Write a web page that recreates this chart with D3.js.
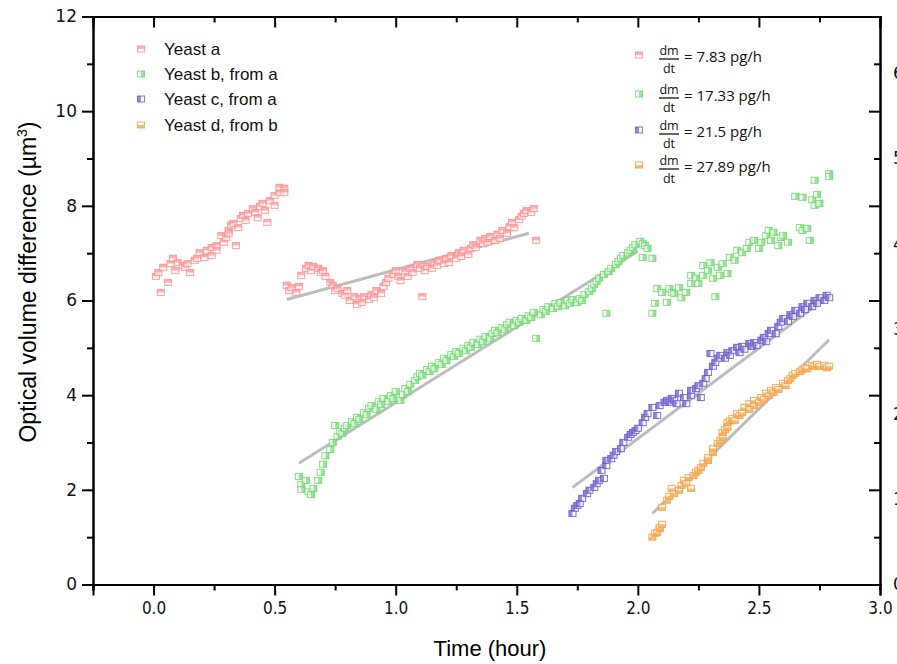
<!DOCTYPE html>
<html><head><meta charset="utf-8">
<script src="https://cdn.jsdelivr.net/npm/d3@7/dist/d3.min.js"></script>
<style>body{margin:0;background:#fff}svg{display:block}</style>
</head><body><svg id="c" width="897" height="664"></svg>
<script>
// ---- data (time in hours, optical volume difference in µm³) ----
const seriesNames = ["Yeast a", "Yeast b, from a", "Yeast c, from a", "Yeast d, from b"];
const rateLabels = ["= 7.83 pg/h", "= 17.33 pg/h", "= 21.5 pg/h", "= 27.89 pg/h"];
const xTicks = [0.0, 0.5, 1.0, 1.5, 2.0, 2.5, 3.0];
const yTicks = [0, 2, 4, 6, 8, 10, 12];
const rightTicks = [0, 1, 2, 3, 4, 5, 6];

const yeastA = [[0.01,6.51],[0.02,6.59],[0.03,6.17],[0.04,6.70],[0.06,6.38],[0.07,6.78],[0.08,6.89],[0.09,6.63],[0.10,6.80],[0.12,6.74],[0.13,6.70],[0.14,6.78],[0.15,6.59],[0.17,6.85],[0.18,6.89],[0.19,7.01],[0.21,6.91],[0.22,7.06],[0.24,6.95],[0.24,7.12],[0.26,7.16],[0.26,7.06],[0.28,7.37],[0.29,7.23],[0.30,7.33],[0.31,7.48],[0.31,7.42],[0.32,7.59],[0.33,7.63],[0.34,7.16],[0.35,7.54],[0.36,7.73],[0.37,7.80],[0.38,7.69],[0.39,7.84],[0.41,7.94],[0.42,7.86],[0.43,7.75],[0.44,7.99],[0.45,8.05],[0.46,7.90],[0.47,7.65],[0.48,8.11],[0.50,8.01],[0.50,8.22],[0.52,8.28],[0.52,8.39],[0.54,8.37],[0.54,8.28],
[0.55,6.32],[0.56,6.21],[0.57,6.27],[0.59,6.17],[0.60,6.30],[0.61,6.53],[0.63,6.68],[0.64,6.74],[0.65,6.63],[0.66,6.72],[0.68,6.68],[0.69,6.59],[0.70,6.63],[0.71,6.51],[0.73,6.38],[0.74,6.32],[0.75,6.21],[0.76,6.25],[0.78,6.15],[0.79,6.11],[0.80,6.21],[0.81,6.00],[0.83,6.08],[0.84,5.92],[0.85,6.04],[0.86,5.96],[0.87,6.08],[0.89,6.02],[0.90,6.13],[0.91,6.06],[0.92,6.21],[0.94,6.15],[0.95,6.30],[0.96,6.38],[0.97,6.47],[0.99,6.55],[1.00,6.63],[1.01,6.51],[1.02,6.42],[1.04,6.61],[1.05,6.51],[1.06,6.68],[1.07,6.59],[1.09,6.76],[1.10,6.68],[1.11,6.08],[1.12,6.63],[1.13,6.72],[1.15,6.68],[1.16,6.80],[1.17,6.74],[1.18,6.85],[1.20,6.78],[1.21,6.89],[1.22,6.80],[1.23,6.95],[1.25,6.89],[1.26,7.01],[1.27,6.93],[1.28,7.06],[1.30,6.97],[1.31,7.10],[1.32,7.18],[1.33,7.12],[1.35,7.27],[1.36,7.20],[1.37,7.31],[1.38,7.23],[1.39,7.35],[1.41,7.27],[1.42,7.40],[1.43,7.31],[1.44,7.48],[1.46,7.42],[1.47,7.56],[1.48,7.65],[1.49,7.54],[1.51,7.71],[1.52,7.78],[1.53,7.84],[1.54,7.90],[1.56,7.86],[1.57,7.94],[1.58,7.27]];

const yeastB = [[0.60,2.28],[0.61,2.11],[0.61,2.01],[0.63,2.20],[0.64,1.96],[0.65,1.90],[0.66,2.03],[0.68,2.20],[0.69,2.37],[0.70,2.54],[0.71,2.72],[0.73,2.85],[0.74,3.00],[0.75,3.36],[0.76,3.13],[0.77,3.23],[0.78,3.19],[0.79,3.30],[0.80,3.36],[0.82,3.44],[0.83,3.40],[0.84,3.53],[0.85,3.49],[0.87,3.63],[0.88,3.59],[0.89,3.72],[0.90,3.78],[0.92,3.70],[0.93,3.87],[0.94,3.80],[0.95,3.93],[0.97,3.87],[0.98,3.99],[0.99,3.93],[1.00,4.08],[1.02,3.89],[1.03,4.01],[1.04,4.14],[1.05,4.08],[1.06,4.23],[1.08,4.31],[1.09,4.39],[1.10,4.46],[1.11,4.42],[1.13,4.54],[1.14,4.50],[1.15,4.61],[1.16,4.56],[1.18,4.69],[1.19,4.65],[1.20,4.78],[1.21,4.73],[1.23,4.86],[1.24,4.82],[1.25,4.92],[1.26,4.88],[1.28,4.99],[1.29,4.94],[1.30,5.05],[1.31,5.01],[1.32,5.11],[1.34,5.07],[1.35,5.18],[1.36,5.13],[1.37,5.24],[1.39,5.20],[1.40,5.30],[1.41,5.37],[1.42,5.32],[1.44,5.43],[1.45,5.39],[1.46,5.49],[1.47,5.54],[1.49,5.47],[1.50,5.58],[1.51,5.54],[1.52,5.62],[1.54,5.58],[1.55,5.68],[1.56,5.64],[1.57,5.75],[1.58,5.20],[1.60,5.70],[1.61,5.81],[1.62,5.77],[1.63,5.87],[1.65,5.83],[1.66,5.94],[1.67,5.87],[1.68,5.96],[1.70,5.89],[1.71,6.00],[1.72,5.94],[1.73,6.02],[1.75,5.96],[1.76,6.04],[1.77,6.00],[1.78,6.13],[1.80,6.19],[1.81,6.25],[1.82,6.34],[1.83,6.40],[1.84,6.47],[1.86,6.55],[1.87,5.73],[1.88,6.61],[1.89,6.68],[1.91,6.76],[1.92,6.82],[1.93,6.89],[1.94,6.95],[1.96,7.01],[1.97,7.06],[1.98,7.12],[1.99,7.18],[2.01,7.25],[2.02,7.20],[2.03,7.16],[2.04,7.10],[2.02,6.91],[2.06,6.89],
[2.06,5.73],[2.07,5.94],[2.08,6.25],[2.10,6.17],[2.12,5.96],[2.13,6.25],[2.14,6.17],[2.15,6.15],[2.17,6.27],[2.18,6.06],[2.20,6.17],[2.22,6.36],[2.22,6.53],[2.24,6.47],[2.25,6.36],[2.27,6.53],[2.27,6.74],[2.29,6.63],[2.30,6.80],[2.31,6.47],[2.32,6.08],[2.33,6.70],[2.34,6.53],[2.35,6.78],[2.37,6.57],[2.38,6.91],[2.40,6.85],[2.41,7.06],[2.43,7.01],[2.45,7.10],[2.46,7.23],[2.48,7.27],[2.50,7.10],[2.51,7.23],[2.53,7.37],[2.54,7.48],[2.55,7.27],[2.56,7.44],[2.58,7.16],[2.59,7.33],[2.60,7.37],[2.62,7.23],[2.65,8.20],[2.67,7.54],[2.68,8.18],[2.68,7.48],[2.70,7.52],[2.71,7.27],[2.72,8.13],[2.73,8.01],[2.74,8.24],[2.73,8.54],[2.75,8.05],[2.79,8.68],[2.79,8.62]];

const yeastC = [[1.73,1.50],[1.74,1.61],[1.75,1.67],[1.76,1.71],[1.77,1.82],[1.79,1.92],[1.80,1.99],[1.82,2.05],[1.83,2.13],[1.84,2.20],[1.86,2.24],[1.85,2.41],[1.87,2.51],[1.87,2.62],[1.89,2.66],[1.90,2.73],[1.91,2.81],[1.93,2.87],[1.94,3.00],[1.96,3.11],[1.97,3.17],[1.98,3.21],[1.99,3.25],[2.00,3.30],[2.02,3.42],[2.03,3.53],[2.04,3.61],[2.06,3.74],[2.08,3.57],[2.09,3.78],[2.11,3.85],[2.12,3.89],[2.13,3.85],[2.14,3.93],[2.15,3.89],[2.16,3.82],[2.17,4.04],[2.19,3.95],[2.20,3.82],[2.22,3.99],[2.22,4.10],[2.24,4.14],[2.25,4.20],[2.26,3.95],[2.27,4.25],[2.28,4.35],[2.29,4.48],[2.30,4.88],[2.31,4.61],[2.32,4.69],[2.33,4.78],[2.34,4.84],[2.36,4.78],[2.37,4.90],[2.38,4.84],[2.39,4.94],[2.41,5.01],[2.42,4.90],[2.43,5.03],[2.44,4.97],[2.46,5.09],[2.47,5.03],[2.48,5.11],[2.49,5.05],[2.51,5.16],[2.52,5.22],[2.53,5.13],[2.54,5.30],[2.55,5.37],[2.57,5.30],[2.58,5.45],[2.59,5.54],[2.60,5.62],[2.62,5.56],[2.63,5.70],[2.64,5.66],[2.65,5.79],[2.67,5.73],[2.68,5.87],[2.69,5.81],[2.70,5.94],[2.72,5.87],[2.73,6.00],[2.74,5.94],[2.75,6.06],[2.77,6.00],[2.78,6.11],[2.79,6.06]];

const yeastD = [[2.06,1.00],[2.07,1.08],[2.08,1.10],[2.09,1.18],[2.09,1.20],[2.10,1.27],[2.10,1.63],[2.12,1.78],[2.13,1.86],[2.14,2.03],[2.15,1.92],[2.17,1.99],[2.18,2.09],[2.19,2.20],[2.20,2.13],[2.21,2.26],[2.22,2.03],[2.23,2.30],[2.24,2.37],[2.25,2.41],[2.26,2.47],[2.27,2.56],[2.29,2.62],[2.29,2.68],[2.31,2.79],[2.31,2.87],[2.33,2.98],[2.34,3.04],[2.35,3.11],[2.35,3.21],[2.36,3.27],[2.37,3.32],[2.37,3.42],[2.38,3.46],[2.39,3.51],[2.40,3.46],[2.41,3.61],[2.42,3.57],[2.43,3.63],[2.44,3.74],[2.46,3.70],[2.46,3.82],[2.48,3.78],[2.48,3.89],[2.50,3.85],[2.51,3.95],[2.52,3.91],[2.53,4.04],[2.54,3.99],[2.55,4.10],[2.56,4.06],[2.57,4.16],[2.58,4.12],[2.60,4.25],[2.61,4.20],[2.62,4.31],[2.63,4.35],[2.64,4.42],[2.65,4.46],[2.67,4.50],[2.68,4.54],[2.69,4.58],[2.70,4.56],[2.72,4.63],[2.73,4.61],[2.74,4.65],[2.75,4.61],[2.77,4.63],[2.78,4.58],[2.79,4.61]];

// linear fits: [[t0,v0],[t1,v1]]
const fitA = [[0.55,6.02],[1.55,7.42]];
const fitB = [[0.60,2.56],[2.00,7.04]];
const fitC = [[1.73,2.05],[2.79,6.10]];
const fitD = [[2.06,1.50],[2.79,5.17]];

const colors = ["#ff8f8f", "#6fd86f", "#6a58cc", "#f4a040"];
const halves = ["top", "right", "left", "bottom"];

// ---- drawing ----
const svg = d3.select("#c");
const x = d3.scaleLinear().domain([-0.25, 3.0]).range([93, 880]);
const y = d3.scaleLinear().domain([0, 12]).range([584.5, 16.5]);
const yR = d3.scaleLinear().domain([0, 12 / 1.8]).range([584.5, 16.5]);

// fit lines
const line = d3.line().x(d => x(d[0])).y(d => y(d[1]));
svg.append("g").selectAll("path").data([fitA, fitB, fitC, fitD]).join("path")
  .attr("d", line).attr("fill", "none").attr("stroke", "#bdbdbd").attr("stroke-width", 3);

function marker(g, cx, cy, color, half) {
  const w = 7, h = 6;
  const gg = g.append("g").attr("transform", `translate(${cx - w / 2},${cy - h / 2})`);
  let r;
  if (half === "top") r = [0, 0, w, h / 2];
  else if (half === "bottom") r = [0, h / 2, w, h / 2];
  else if (half === "left") r = [0, 0, w / 2, h];
  else r = [w / 2, 0, w / 2, h];
  gg.append("rect").attr("x", 0).attr("y", 0).attr("width", w).attr("height", h)
    .attr("fill", "#fff").attr("fill-opacity", 0.6).attr("stroke", color).attr("stroke-width", 1.1).attr("stroke-opacity", 0.8);
  gg.append("rect").attr("x", r[0]).attr("y", r[1]).attr("width", r[2]).attr("height", r[3])
    .attr("fill", color).attr("fill-opacity", 0.7);
}

const allSeries = [yeastA, yeastB, yeastC, yeastD];
allSeries.forEach((s, i) => {
  const g = svg.append("g");
  s.forEach(d => marker(g, x(d[0]), y(d[1]), colors[i], halves[i]));
});

// axes
const minorX = [-0.25, 0.25, 0.75, 1.25, 1.75, 2.25, 2.75];
const minorY = [1, 3, 5, 7, 9, 11];
const axBottom = d3.axisBottom(x).tickValues(xTicks).tickSize(11).tickFormat(d3.format(".1f"));
const axBottomMinor = d3.axisBottom(x).tickValues(minorX).tickSize(6).tickFormat("");
const gB = svg.append("g").attr("transform", "translate(0,584.5)").call(axBottom);
svg.append("g").attr("transform", "translate(0,584.5)").call(axBottomMinor);
const axTop = d3.axisTop(x).tickValues(xTicks).tickSize(-11).tickFormat("");
const axTopMinor = d3.axisTop(x).tickValues(minorX).tickSize(-6).tickFormat("");
svg.append("g").attr("transform", "translate(0,16.5)").call(axTop);
svg.append("g").attr("transform", "translate(0,16.5)").call(axTopMinor);

const axLeft = d3.axisLeft(y).tickValues(yTicks).tickSize(11).tickFormat(d3.format("d"));
const axLeftMinor = d3.axisLeft(y).tickValues(minorY).tickSize(6).tickFormat("");
const gL = svg.append("g").attr("transform", "translate(93,0)").call(axLeft);
svg.append("g").attr("transform", "translate(93,0)").call(axLeftMinor);
const axRight = d3.axisRight(y).tickValues(yTicks).tickSize(-11).tickFormat("");
const axRightMinor = d3.axisRight(y).tickValues(minorY).tickSize(-6).tickFormat("");
svg.append("g").attr("transform", "translate(880,0)").call(axRight);
svg.append("g").attr("transform", "translate(880,0)").call(axRightMinor);
const axRightLabels = d3.axisRight(yR).tickValues(rightTicks).tickSize(0).tickPadding(13).tickFormat(d3.format("d"));
const gR = svg.append("g").attr("transform", "translate(880,0)").call(axRightLabels);
gR.select(".domain").remove();

svg.selectAll(".domain").attr("stroke", "#000").attr("stroke-width", 2);
svg.selectAll(".tick line").attr("stroke", "#000").attr("stroke-width", 2);
gL.selectAll("text").attr("font-family", "DejaVu Sans, Verdana, sans-serif").attr("font-size", 17).attr("dx", -2).attr("fill", "#111");
gR.selectAll("text").attr("font-family", "DejaVu Sans, Verdana, sans-serif").attr("font-size", 17).attr("fill", "#111");
gB.selectAll("text").attr("font-family", "'Liberation Sans Narrow', 'DejaVu Sans Condensed', sans-serif").attr("font-size", 17).attr("dy", "0.9em").attr("fill", "#111");

// axis titles
svg.append("text").attr("x", 490).attr("y", 656).attr("text-anchor", "middle")
  .attr("font-family", "Liberation Sans, Arial, sans-serif").attr("font-size", 22).text("Time (hour)");
const yt = svg.append("text").attr("transform", "translate(36,282) rotate(-90)").attr("text-anchor", "middle")
  .attr("font-family", "Liberation Sans, Arial, sans-serif").attr("font-size", 23);
yt.append("tspan").text("Optical volume difference (µm");
yt.append("tspan").attr("font-size", 14).attr("dy", -9).text("3");
yt.append("tspan").attr("dy", 9).text(")");

// left legend
const legRows = [49, 74, 99, 125];
seriesNames.forEach((n, i) => {
  marker(svg, 141, legRows[i], colors[i], halves[i]);
  svg.append("text").attr("x", 164).attr("y", legRows[i] + 6).attr("font-family", "Liberation Sans, Arial, sans-serif")
    .attr("font-size", 17).attr("fill", "#111").text(n);
});

// right legend (rates): fraction bar positions
const rateRows = [59, 98, 134, 169];
rateLabels.forEach((t, i) => {
  const L = rateRows[i];
  marker(svg, 639, L - 4, colors[i], halves[i]);
  const ff = "'Open Sans', 'Noto Sans', sans-serif";
  svg.append("text").attr("x", 669).attr("y", L - 4).attr("text-anchor", "middle").attr("font-family", ff).attr("font-size", 12.5).attr("fill", "#111").text("dm");
  svg.append("line").attr("x1", 659).attr("x2", 679).attr("y1", L).attr("y2", L).attr("stroke", "#111").attr("stroke-width", 1.3);
  svg.append("text").attr("x", 669).attr("y", L + 14).attr("text-anchor", "middle").attr("font-family", ff).attr("font-size", 12.5).attr("fill", "#111").text("dt");
  svg.append("text").attr("x", 684).attr("y", L + 3).attr("font-family", ff).attr("font-size", 15).attr("fill", "#111").text(t);
});
</script></body></html>
